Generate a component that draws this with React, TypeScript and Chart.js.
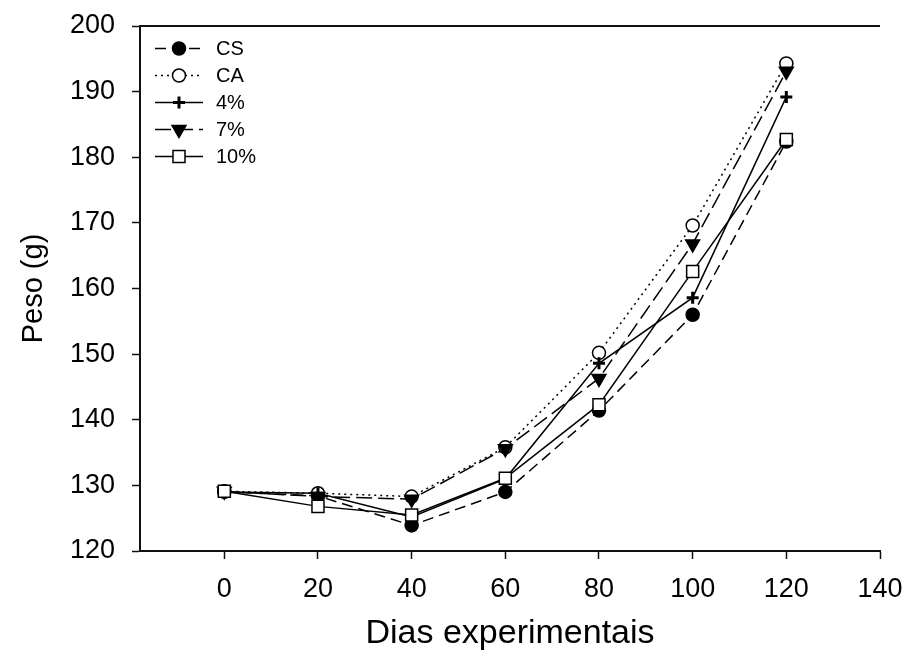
import React, { useEffect, useRef } from "react";
import { Chart, registerables } from "chart.js";
import { drawPoint } from "chart.js/helpers";

Chart.register(...registerables);

const days = [0, 20, 40, 60, 80, 100, 120];
const seriesNames = ["CS", "CA", "4%", "7%", "10%"];
const csValues = [129.0, 128.4, 123.9, 129.0, 141.4, 156.0, 182.4];
const caValues = [129.1, 128.8, 128.3, 135.8, 150.2, 169.6, 194.3];
const p4Values = [129.0, 128.8, 125.2, 131.0, 148.6, 158.6, 189.2];
const p7Values = [129.1, 128.3, 127.9, 135.6, 146.3, 166.8, 193.1];
const p10Values = [129.1, 126.8, 125.5, 131.1, 142.3, 162.6, 182.7];
const xTicks = [0, 20, 40, 60, 80, 100, 120, 140];
const yTicks = [120, 130, 140, 150, 160, 170, 180, 190, 200];

const FONT = "'Liberation Sans', Arial, sans-serif";

const toPts = (vals: number[]) => days.map((d, i) => ({ x: d, y: vals[i] }));

const frameAndLegend = {
  id: "frameAndLegend",
  afterDraw(chart: any) {
    const { ctx, chartArea } = chart;
    ctx.save();
    // top frame line
    ctx.strokeStyle = "#111";
    ctx.lineWidth = 2;
    ctx.beginPath();
    ctx.moveTo(chartArea.left - 1, chartArea.top);
    ctx.lineTo(chartArea.right, chartArea.top);
    ctx.stroke();

    // legend
    const x0 = 155;
    const x1 = 203;
    const xm = 179;
    const y0 = 48.5;
    const dy = 27;
    chart.data.datasets.forEach((ds: any, i: number) => {
      const y = y0 + i * dy;
      ctx.save();
      ctx.strokeStyle = "#000";
      ctx.lineWidth = ds.borderWidth;
      ctx.setLineDash(ds.borderDash || []);
      ctx.beginPath();
      ctx.moveTo(x0, y);
      ctx.lineTo(x1, y);
      ctx.stroke();
      ctx.setLineDash([]);
      ctx.fillStyle = ds.pointBackgroundColor;
      ctx.strokeStyle = ds.pointBorderColor;
      ctx.lineWidth = ds.pointBorderWidth;
      drawPoint(ctx, {
        pointStyle: ds.pointStyle,
        rotation: ds.pointRotation || 0,
        radius: ds.pointRadius,
        borderWidth: ds.pointBorderWidth,
      } as any, xm, y);
      ctx.restore();
      ctx.fillStyle = "#000";
      ctx.font = `20px ${FONT}`;
      ctx.textAlign = "left";
      ctx.textBaseline = "middle";
      ctx.fillText(seriesNames[i], 216, y + 1);
    });
    ctx.restore();
  },
};

export default function App() {
  const ref = useRef<HTMLCanvasElement | null>(null);

  useEffect(() => {
    if (!ref.current) return;
    const common = {
      borderColor: "#000",
      borderWidth: 1.5,
      pointBorderColor: "#000",
      pointBorderWidth: 1.5,
      tension: 0,
      fill: false,
    };
    const chart = new Chart(ref.current, {
      type: "line",
      data: {
        datasets: [
          {
            ...common,
            label: seriesNames[0],
            data: toPts(csValues),
            borderDash: [11, 6],
            pointStyle: "circle",
            pointRadius: 6.5,
            pointBackgroundColor: "#000",
            order: 5,
          },
          {
            ...common,
            label: seriesNames[1],
            data: toPts(caValues),
            borderDash: [2, 4],
            pointStyle: "circle",
            pointRadius: 6.5,
            pointBackgroundColor: "#fff",
            order: 4,
          },
          {
            ...common,
            label: seriesNames[2],
            data: toPts(p4Values),
            pointStyle: "cross",
            pointRadius: 6,
            pointBorderWidth: 3,
            pointBackgroundColor: "#000",
            order: 3,
          },
          {
            ...common,
            label: seriesNames[3],
            data: toPts(p7Values),
            borderDash: [16, 6],
            pointStyle: "triangle",
            pointRotation: 180,
            pointRadius: 8,
            pointBackgroundColor: "#000",
            order: 2,
          },
          {
            ...common,
            label: seriesNames[4],
            data: toPts(p10Values),
            pointStyle: "rect",
            pointRadius: 8.5,
            pointBackgroundColor: "#fff",
            order: 1,
          },
        ],
      },
      options: {
        responsive: false,
        animation: false,
        layout: { padding: { top: 26, right: 26, left: 0, bottom: 0 } },
        plugins: {
          legend: { display: false },
          tooltip: { enabled: false },
        },
        scales: {
          x: {
            type: "linear",
            min: -18,
            max: 140,
            afterFit: (s: any) => {
              s.height = 106;
              s.paddingLeft = 0;
              s.paddingRight = 0;
            },
            afterBuildTicks: (s: any) => {
              s.ticks = xTicks.map((v) => ({ value: v }));
            },
            ticks: {
              color: "#000",
              font: { family: FONT, size: 27 },
              padding: 14,
              maxRotation: 0,
              autoSkip: false,
            },
            grid: {
              display: true,
              drawOnChartArea: false,
              drawTicks: true,
              tickLength: 8,
              tickColor: "#111",
              tickWidth: 1.5,
            },
            border: { display: true, color: "#111", width: 2 },
            title: {
              display: true,
              text: "Dias experimentais",
              color: "#000",
              font: { family: FONT, size: 34, lineHeight: 1.2 },
              padding: { top: 0, bottom: 3 },
            },
          },
          y: {
            type: "linear",
            min: 120,
            max: 200,
            afterFit: (s: any) => {
              s.width = 140;
              s.paddingTop = 0;
              s.paddingBottom = 0;
            },
            afterBuildTicks: (s: any) => {
              s.ticks = yTicks.map((v) => ({ value: v }));
            },
            ticks: {
              color: "#000",
              font: { family: FONT, size: 27 },
              padding: 17,
              autoSkip: false,
            },
            grid: {
              display: true,
              drawOnChartArea: false,
              drawTicks: true,
              tickLength: 8,
              tickColor: "#111",
              tickWidth: 1.5,
            },
            border: { display: true, color: "#111", width: 2 },
            title: {
              display: true,
              text: "Peso (g)",
              color: "#000",
              font: { family: FONT, size: 29 },
              padding: { top: 17, bottom: 0 },
            },
          },
        },
      },
      plugins: [frameAndLegend],
    } as any);
    return () => chart.destroy();
  }, []);

  return (
    <div style={{ position: "fixed", left: 0, top: 0, width: 906, height: 657, background: "#fff" }}>
      <canvas ref={ref} width={906} height={657} />
    </div>
  );
}
